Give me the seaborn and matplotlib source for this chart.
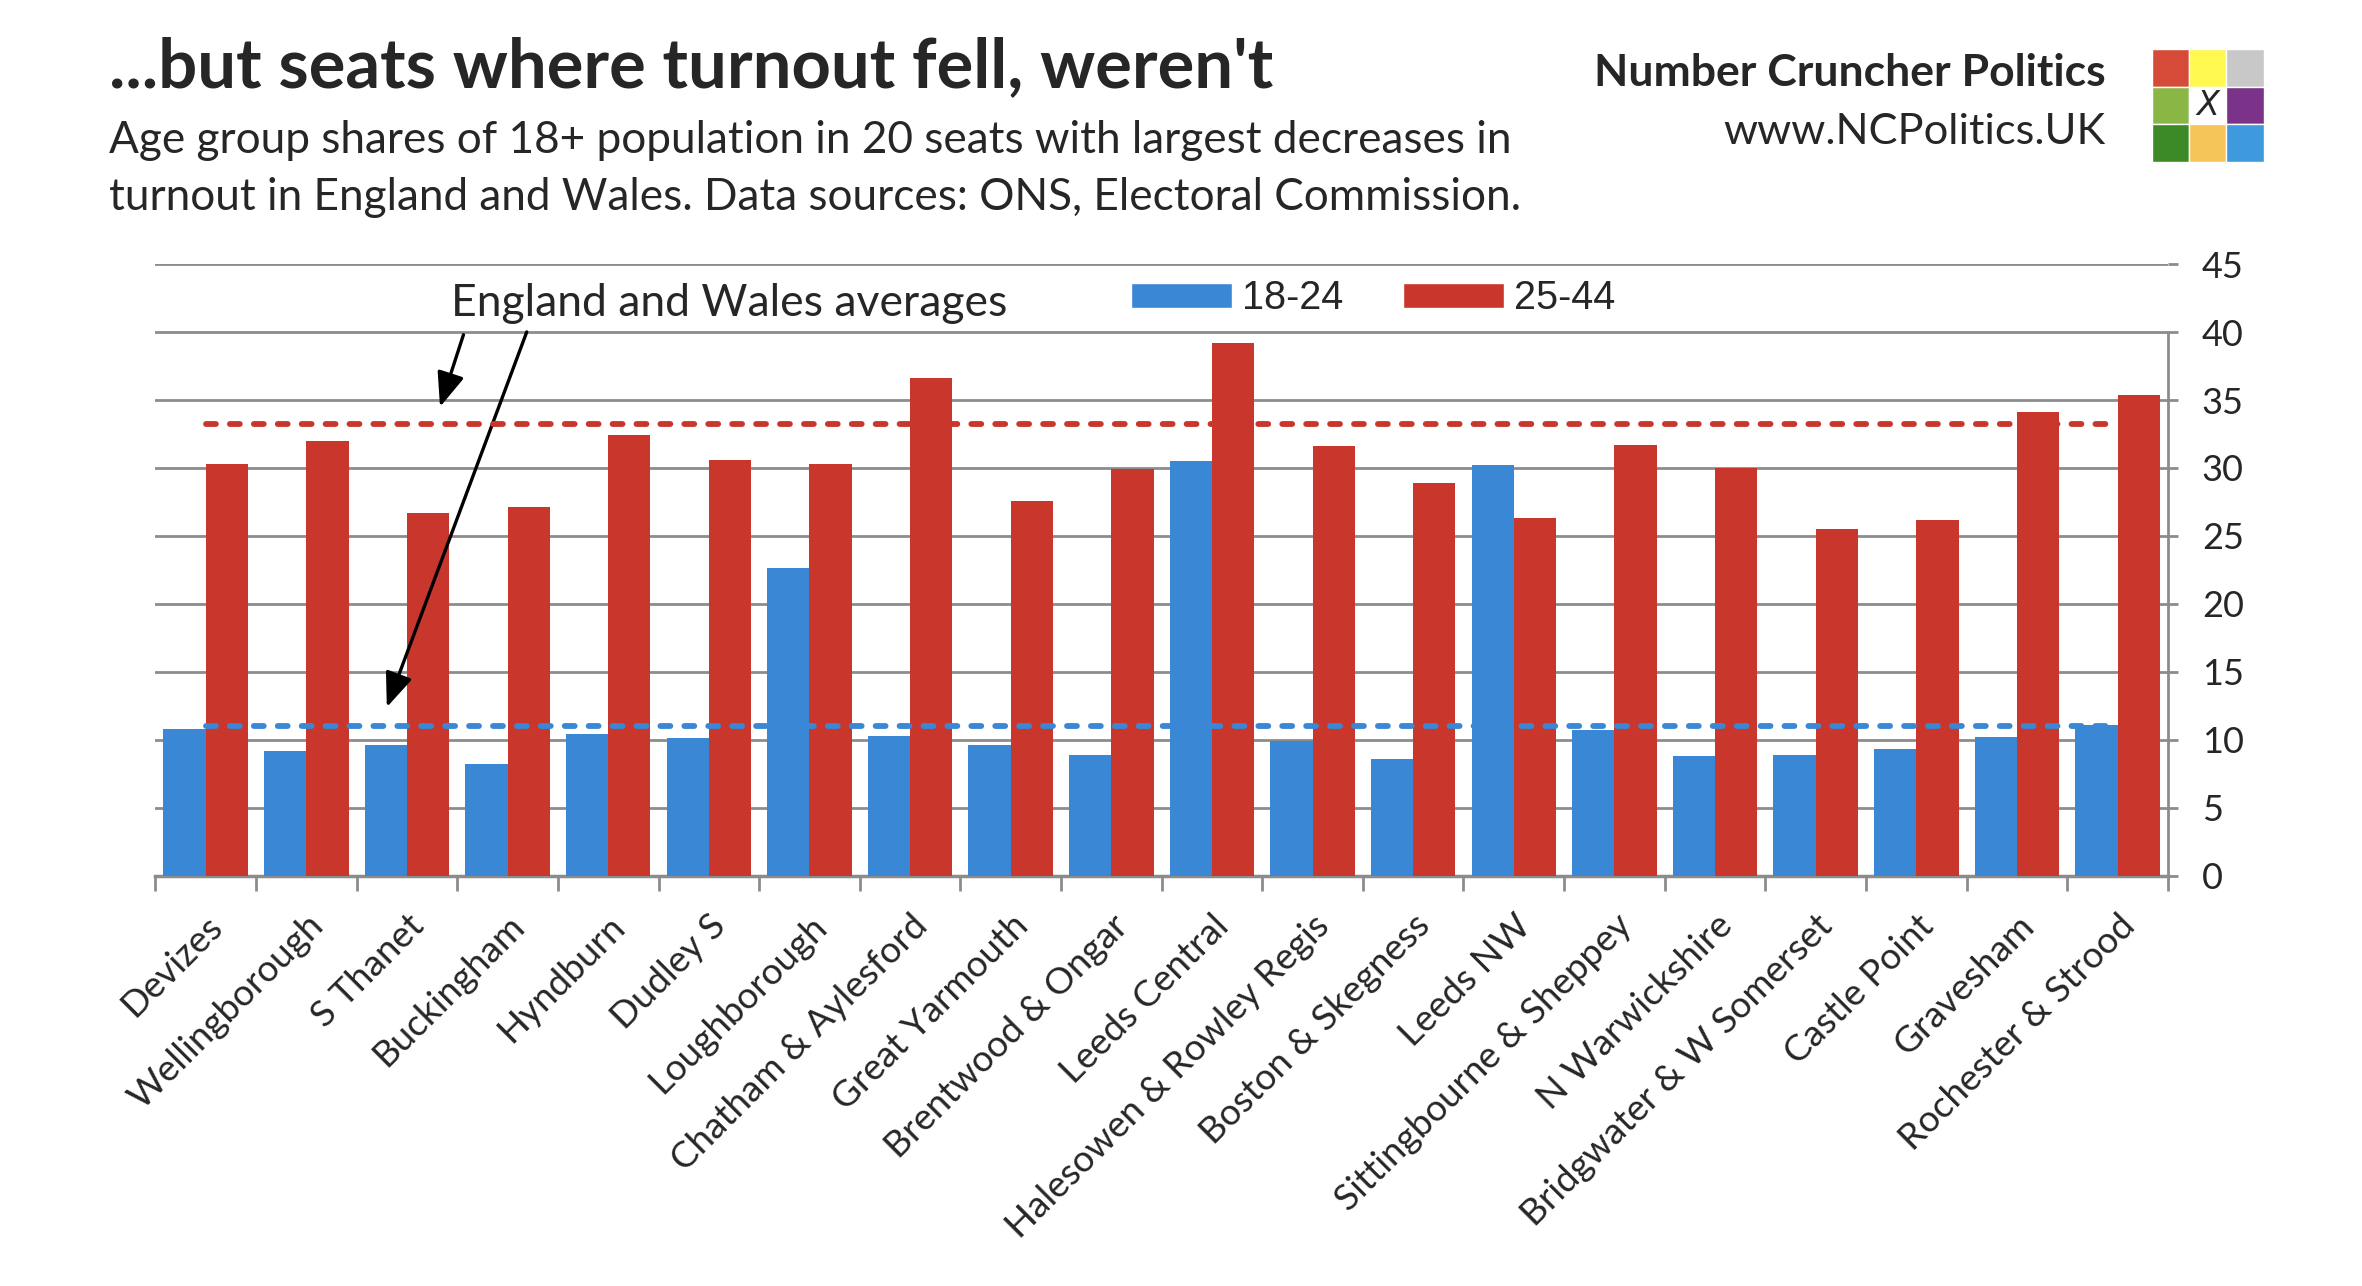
import matplotlib
matplotlib.use("Agg")
import matplotlib.pyplot as plt
from matplotlib.patches import Rectangle, Patch
import pandas as pd
import seaborn as sns

seats = [
    "Devizes", "Wellingborough", "S Thanet", "Buckingham", "Hyndburn",
    "Dudley S", "Loughborough", "Chatham & Aylesford", "Great Yarmouth",
    "Brentwood & Ongar", "Leeds Central", "Halesowen & Rowley Regis",
    "Boston & Skegness", "Leeds NW", "Sittingbourne & Sheppey",
    "N Warwickshire", "Bridgwater & W Somerset", "Castle Point",
    "Gravesham", "Rochester & Strood",
]
share_18_24 = [10.8, 9.2, 9.6, 8.2, 10.4, 10.1, 22.6, 10.3, 9.6, 8.9,
               30.5, 9.9, 8.6, 30.2, 10.7, 8.8, 8.9, 9.3, 10.2, 11.1]
share_25_44 = [30.3, 32.0, 26.7, 27.1, 32.4, 30.6, 30.3, 36.6, 27.6, 29.9,
               39.2, 31.6, 28.9, 26.3, 31.7, 30.0, 25.5, 26.2, 34.1, 35.4]
groups = ["18-24", "25-44"]
avg_18_24 = 11.0
avg_25_44 = 33.2
y_ticks = [0, 5, 10, 15, 20, 25, 30, 35, 40, 45]

BLUE = "#3A87D5"
RED = "#C9372C"
GRID = "#8C8C8C"
FONT = ["Lato", "DejaVu Sans"]

df = pd.DataFrame({
    "seat": seats * 2,
    "share": share_18_24 + share_25_44,
    "group": [groups[0]] * len(seats) + [groups[1]] * len(seats),
})

sns.set_theme(style="white")
plt.rcParams["font.family"] = FONT

fig = plt.figure(figsize=(23.62, 12.86), dpi=100)
ax = fig.add_axes([0.0658, 0.3192, 0.852, 0.4754])

sns.barplot(data=df, x="seat", y="share", hue="group", palette=[BLUE, RED],
            width=0.84, saturation=1, legend=False, linewidth=0,
            ax=ax, zorder=3)

# England and Wales averages
n = len(seats)
for avg, col in [(avg_25_44, RED), (avg_18_24, BLUE)]:
    ax.plot([0, n - 1], [avg, avg], color=col, linewidth=4.2,
            linestyle=(0, (1.7, 2.4)), dash_capstyle="round", zorder=4)

ax.set_xlim(-0.5, n - 0.5)
ax.set_ylim(0, 45)
ax.set_yticks(y_ticks)
ax.yaxis.tick_right()
ax.grid(axis="y", color=GRID, linewidth=2, zorder=0)
ax.set_axisbelow(True)
ax.set_xlabel("")
ax.set_ylabel("")

for side in ["top", "left"]:
    ax.spines[side].set_visible(False)
ax.spines["right"].set_color(GRID)
ax.spines["right"].set_linewidth(2)
ax.spines["right"].set_bounds(0, 40)
ax.spines["bottom"].set_color(GRID)
ax.spines["bottom"].set_linewidth(2.5)

ax.tick_params(axis="y", right=True, length=7.5, width=2, color=GRID,
               labelsize=26, pad=17)
ax.set_xticks(range(n))
ax.set_xticks([i - 0.5 for i in range(n + 1)], minor=True)
ax.tick_params(axis="x", which="major", length=0, pad=24)
ax.tick_params(axis="x", which="minor", length=11, width=2, color=GRID,
               bottom=True)
ax.set_xticklabels(seats, rotation=45, ha="right", rotation_mode="anchor",
                   fontsize=26.5)

# annotation
ax.text(5.2, 42.1, "England and Wales averages", ha="center", va="center",
        fontsize=32, zorder=5)
arrow_style = dict(arrowstyle="-|>,head_length=0.7,head_width=0.28",
                   color="black", lw=2.4, mutation_scale=30)
ax.annotate("", xy=(2.32, 34.3), xytext=(2.57, 40.0), arrowprops=arrow_style)
ax.annotate("", xy=(1.79, 12.2), xytext=(3.20, 40.2), arrowprops=arrow_style)

handles = [Patch(facecolor=BLUE, label=groups[0]),
           Patch(facecolor=RED, label=groups[1])]
fig.legend(handles=handles, loc="center left", bbox_to_anchor=(0.479, 0.768),
           ncol=2, frameon=False, handlelength=2.55, handleheight=0.62,
           handletextpad=0.25, columnspacing=1.5, borderpad=0,
           borderaxespad=0,
           prop={"family": ["Liberation Sans", "DejaVu Sans"], "size": 28.5})

# header texts
fig.text(0.046, 0.932, "...but seats where turnout fell, weren't",
         fontsize=49.5, fontweight="bold", va="baseline", ha="left")
fig.text(0.046, 0.881,
         "Age group shares of 18+ population in 20 seats with largest decreases in",
         fontsize=31.8, va="baseline", ha="left")
fig.text(0.046, 0.837,
         "turnout in England and Wales. Data sources: ONS, Electoral Commission.",
         fontsize=31.8, va="baseline", ha="left")
fig.text(0.8914, 0.933, "Number Cruncher Politics", fontsize=32,
         fontweight="bold", va="baseline", ha="right")
fig.text(0.8914, 0.888, "www.NCPolitics.UK", fontsize=31.2,
         va="baseline", ha="right")

# logo
logo = fig.add_axes([0.911, 0.874, 0.0473, 0.088])
logo_colors = [["#D64B37", "#FFF84E", "#C8C8C8"],
               ["#8AB645", "#FFFFFF", "#7B3289"],
               ["#3B8A27", "#F5C55A", "#3E99DD"]]
for r, row in enumerate(logo_colors):
    for c, col in enumerate(row):
        logo.add_patch(Rectangle((c, 2 - r), 1, 1, facecolor=col,
                                 edgecolor="white", linewidth=1))
logo.text(1.5, 1.5, "X", ha="center", va="center", fontsize=24,
          style="italic", family=["DejaVu Sans"])
logo.set_xlim(0, 3)
logo.set_ylim(0, 3)
logo.axis("off")

fig.savefig("out.png", dpi=100)
